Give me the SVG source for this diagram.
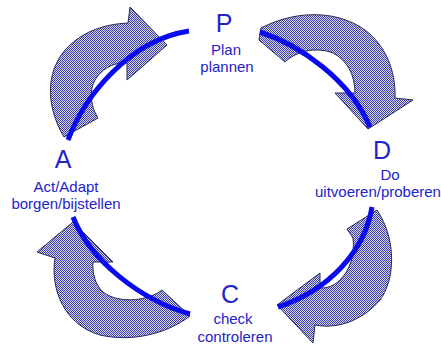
<svg xmlns="http://www.w3.org/2000/svg" width="441" height="349" viewBox="0 0 441 349">
  <defs>
    <pattern id="chk" width="2" height="2" patternUnits="userSpaceOnUse">
      <rect width="2" height="2" fill="#d6d6ef"/>
      <rect width="1" height="1" fill="#3d3da8"/>
      <rect x="1" y="1" width="1" height="1" fill="#3d3da8"/>
    </pattern>
  </defs>
  <style>
    .blk { fill: url(#chk); stroke: #2a2a55; stroke-width: 1; stroke-linejoin: miter; }
    .arc { fill: none; stroke: #0a0aee; stroke-width: 5; stroke-linecap: butt; }
    .big { font-family: "Liberation Sans", Arial, sans-serif; font-size: 25px; fill: #2323c8; text-anchor: middle; }
    .sm { font-family: "Liberation Sans", Arial, sans-serif; font-size: 15px; fill: #2323c8; text-anchor: middle; }
  </style>
  <rect width="441" height="349" fill="#ffffff"/>
  <g id="connectors">
    <path class="blk" d="M64,137 C45,105 45,68 70,45 C85,31 105,24 128,23 L130,7 L167,45 L127,80 L127,63 C108,62 95,75 92,88 C90,100 93,110 98,118 Z"/>
    <path class="blk" d="M261,28 L259,40 L285,62 C295,52 315,46 333,53 C347,60 355,75 355,93 L335,93 L368,129 L413,100 L395,98 C396,70 385,45 365,30 C340,12 300,8 261,28 Z"/>
    <path class="blk" d="M377,210 L347,229 L353,238 C355,255 350,270 340,280 C333,287 326,288 320,288 L320,273 L277,305 L313,343 L315,325 C340,330 365,318 380,300 C395,280 397,240 377,210 Z"/>
    <path class="blk" d="M73,222 L37,252 L55,258 C50,290 65,325 100,335 C130,342 165,335 190,316 L162,290 C150,300 120,305 103,292 C95,285 92,272 93,262 L113,262 Z"/>
    <path class="arc" d="M68,140 C85,95 130,40 189,31"/>
    <path class="arc" d="M260,32 C300,45 350,80 370,127"/>
    <path class="arc" d="M372,207 C365,250 330,290 278,307"/>
    <path class="arc" d="M73,217 C90,260 140,300 190,314"/>
  </g>
  <g id="node-P">
    <text class="big" x="224" y="32">P</text>
    <text class="sm" x="226" y="55">Plan</text>
    <text class="sm" x="227" y="72">plannen</text>
  </g>
  <g id="node-D">
    <text class="big" x="382" y="159">D</text>
    <text class="sm" x="390" y="180">Do</text>
    <text class="sm" x="378" y="197">uitvoeren/proberen</text>
  </g>
  <g id="node-C">
    <text class="big" x="230" y="303">C</text>
    <text class="sm" x="233" y="324">check</text>
    <text class="sm" x="235" y="342">controleren</text>
  </g>
  <g id="node-A">
    <text class="big" x="63" y="168">A</text>
    <text class="sm" x="66" y="192">Act/Adapt</text>
    <text class="sm" x="66" y="209">borgen/bijstellen</text>
  </g>
</svg>
